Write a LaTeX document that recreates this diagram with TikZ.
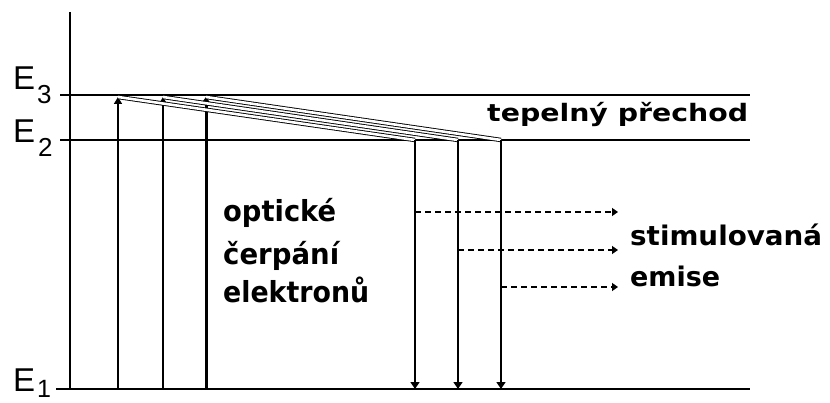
\documentclass[tikz,border=0pt]{standalone}
\usepackage{fontspec}
\usetikzlibrary{arrows.meta}
\newfontfamily\elab{Liberation Sans}
\newfontfamily\tlab{DejaVu Sans}
\newcommand\wfit[2]{\resizebox{#1}{\height}{#2}}
\begin{document}
\begin{tikzpicture}[x=1pt,y=-1pt,
  level/.style={line width=1.6pt},
  pumparrow/.style={line width=1.5pt,-{Triangle[length=7pt,width=8pt]}},
  thickpump/.style={line width=3pt,-{Triangle[length=7pt,width=10pt]}},
  thermal/.style={double,line width=0.9pt,double distance=2.6pt},
  emitarrow/.style={line width=1.5pt,-{Triangle[length=7pt,width=9pt]}},
  stimarrow/.style={line width=1.3pt,dash pattern=on 6pt off 4pt,-{Triangle[length=6pt,width=8pt]}},
  txt/.style={inner sep=0pt,anchor=base west,font=\tlab\bfseries},
  etxt/.style={inner sep=0pt,anchor=base west,font=\elab}]
\useasboundingbox (0,0) rectangle (830,403);
% axis and levels
\coordinate (axT) at (70,12);
\coordinate (axB) at (70,389);
\coordinate (e3a) at (60,95);  \coordinate (e3b) at (750,95);
\coordinate (e2a) at (60,140); \coordinate (e2b) at (750,140);
\coordinate (e1a) at (56,389); \coordinate (e1b) at (750,389);
\draw[level] (axT) -- (axB);
\draw[level] (e3a) -- (e3b);
\draw[level] (e2a) -- (e2b);
\draw[level] (e1a) -- (e1b);
% level labels
\node[etxt,font=\elab\fontsize{33}{33}\selectfont] (E3) at (13,90) {E};
\node[etxt,font=\elab\fontsize{26}{26}\selectfont] (E3s) at (37,104) {3};
\node[etxt,font=\elab\fontsize{33}{33}\selectfont] (E2) at (13,143) {E};
\node[etxt,font=\elab\fontsize{26}{26}\selectfont] (E2s) at (38,157) {2};
\node[etxt,font=\elab\fontsize{33}{33}\selectfont] (E1) at (13,391) {E};
\node[etxt,font=\elab\fontsize{25}{25}\selectfont] (E1s) at (37,397) {1};
% pumping arrows
\coordinate (u1b) at (118,389); \coordinate (u1t) at (118,97);
\coordinate (u2b) at (163,389); \coordinate (u2t) at (163,97);
\coordinate (u3b) at (206,389); \coordinate (u3t) at (206,97);
\draw[pumparrow] (u1b) -- (u1t);
\draw[pumparrow] (u2b) -- (u2t);
\draw[thickpump] (u3b) -- (u3t);
% thermal transitions
\coordinate (d1t) at (415,140); \coordinate (d1b) at (415,389);
\coordinate (d2t) at (458,140); \coordinate (d2b) at (458,389);
\coordinate (d3t) at (501,140); \coordinate (d3b) at (501,389);
\draw[thermal] (u1t) -- (d1t);
\draw[thermal] (u2t) -- (d2t);
\draw[thermal] (u3t) -- (d3t);
% emission arrows
\draw[emitarrow] (d1t) -- (d1b);
\draw[emitarrow] (d2t) -- (d2b);
\draw[emitarrow] (d3t) -- (d3b);
% stimulated photons
\coordinate (s1a) at (415,212); \coordinate (s1b) at (618,212);
\coordinate (s2a) at (458,250); \coordinate (s2b) at (618,250);
\coordinate (s3a) at (501,287); \coordinate (s3b) at (618,287);
\draw[stimarrow] (s1a) -- (s1b);
\draw[stimarrow] (s2a) -- (s2b);
\draw[stimarrow] (s3a) -- (s3b);
% texts
\node[txt,font=\tlab\bfseries\fontsize{24}{24}\selectfont] (thermtxt) at (487,122) {\wfit{261pt}{tepelný přechod}};
\node[txt,font=\tlab\bfseries\fontsize{27}{27}\selectfont] (stimtxt) at (630,246) {\wfit{192pt}{stimulovaná}};
\node[txt,font=\tlab\bfseries\fontsize{27}{27}\selectfont] (emtxt) at (630,287) {\wfit{90pt}{emise}};
\node[txt,font=\tlab\bfseries\fontsize{29}{29}\selectfont] (op1) at (223,222) {\wfit{113pt}{optické}};
\node[txt,font=\tlab\bfseries\fontsize{29}{29}\selectfont] (op2) at (223,265) {\wfit{116pt}{čerpání}};
\node[txt,font=\tlab\bfseries\fontsize{29}{29}\selectfont] (op3) at (223,303) {\wfit{146pt}{elektronů}};
\end{tikzpicture}
\end{document}
